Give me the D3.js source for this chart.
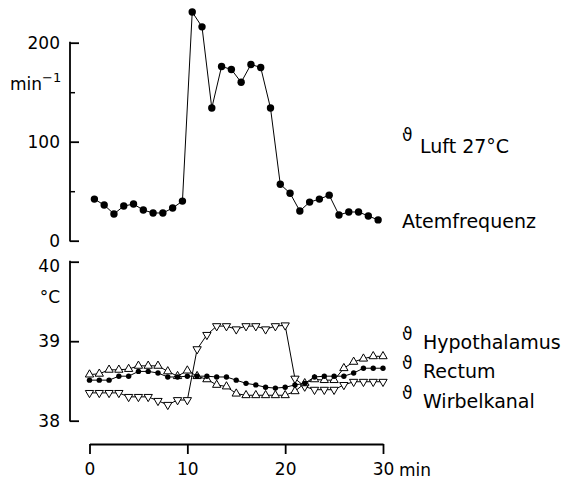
<!DOCTYPE html>
<html>
<head>
<meta charset="utf-8">
<script src="https://cdn.jsdelivr.net/npm/d3@7"></script>
<style>
  body { margin: 0; background: #fff; }
  svg { display: block; }
  text { font-family: "DejaVu Sans", sans-serif; fill: #000; }
</style>
</head>
<body>
<svg id="chart" width="563" height="481"></svg>
<script>
// ---- data ----
const respTimes = [0.5,1.5,2.5,3.5,4.5,5.5,6.5,7.5,8.5,9.5,10.5,11.5,12.5,13.5,14.5,15.5,16.5,17.5,18.5,19.5,20.5,21.5,22.5,23.5,24.5,25.5,26.5,27.5,28.5,29.5];
const atemfrequenz = [42,36,27,35,37,31,28,28,33,40,231,216,134,176,173,160,178,175,134,57,48,30,39,42,46,26,29,29,25,21];

const tempTimes = [0,1,2,3,4,5,6,7,8,9,10,11,12,13,14,15,16,17,18,19,20,21,22,23,24,25,26,27,28,29,30];
const hypothalamus = [38.58,38.59,38.64,38.64,38.65,38.69,38.69,38.69,38.62,38.56,38.63,38.56,38.52,38.45,38.43,38.34,38.32,38.32,38.32,38.32,38.32,38.37,38.47,38.52,38.51,38.51,38.66,38.74,38.78,38.81,38.81];
const rectum = [38.51,38.51,38.51,38.56,38.56,38.62,38.62,38.60,38.55,38.55,38.56,38.56,38.56,38.55,38.55,38.51,38.47,38.45,38.42,38.41,38.42,38.45,38.47,38.55,38.56,38.56,38.56,38.60,38.66,38.66,38.66];
const wirbelkanal = [38.35,38.35,38.35,38.35,38.30,38.30,38.30,38.25,38.20,38.26,38.26,38.90,39.08,39.19,39.19,39.15,39.19,39.19,39.15,39.19,39.20,38.53,38.43,38.39,38.39,38.39,38.45,38.49,38.49,38.49,38.49];

const xTicks = [0,10,20,30];
const topTicks = [0,100,200];
const topMinorTicks = [50,150];
const botTicks = [38,39,40];

// ---- scales ----
const svg = d3.select("#chart");
const x = d3.scaleLinear().domain([0,30]).range([89.5,383]);
const yTop = d3.scaleLinear().domain([0,200]).range([240.7,42.7]);
const yBot = d3.scaleLinear().domain([38,40]).range([420.7,261.7]);
const axisX = 70;
const FS = 17;

// ---- y axes ----
function yAxis(scale, ticks, minor) {
  const g = svg.append("g").attr("transform", `translate(${axisX},0)`);
  g.call(d3.axisLeft(scale).tickValues(ticks).tickFormat(d3.format("d"))
    .tickSizeInner(-9).tickSizeOuter(0).tickPadding(10));
  g.select(".domain").remove();
  g.selectAll(".tick line").attr("stroke","#000").attr("stroke-width",1.8);
  g.selectAll(".tick text").attr("font-size",FS).attr("font-family","DejaVu Sans, sans-serif");
  g.append("line").attr("x1",0).attr("x2",0)
    .attr("y1",scale(scale.domain()[1])-0.9).attr("y2",scale(scale.domain()[0])+0.9)
    .attr("stroke","#000").attr("stroke-width",1.8);
  if (minor) {
    const m = svg.append("g").attr("transform", `translate(${axisX},0)`);
    m.call(d3.axisLeft(scale).tickValues(minor).tickSizeInner(-5).tickSizeOuter(0).tickFormat(""));
    m.select(".domain").remove();
    m.selectAll(".tick line").attr("stroke","#000").attr("stroke-width",1.5);
  }
  return g;
}
yAxis(yTop, topTicks, topMinorTicks);
const gb = yAxis(yBot, botTicks, null);
gb.selectAll(".tick text").filter(d => d === 40).attr("dy","0.55em");

// axis unit labels
const minLab = svg.append("text").attr("x",10).attr("y",90).attr("font-size",FS);
minLab.append("tspan").text("min");
minLab.append("tspan").attr("dy",-8).attr("font-size",13).text("−1");
svg.append("text").attr("x",60).attr("y",303).attr("text-anchor","end").attr("font-size",FS).text("°C");

// ---- x axis ----
const gx = svg.append("g").attr("transform","translate(0,444)");
gx.call(d3.axisBottom(x).tickValues(xTicks).tickSizeInner(10).tickSizeOuter(0).tickPadding(9));
gx.select(".domain").attr("stroke","#000").attr("stroke-width",1.8);
gx.selectAll(".tick line").attr("stroke","#000").attr("stroke-width",1.8);
gx.selectAll(".tick text").attr("font-size",FS).attr("font-family","DejaVu Sans, sans-serif");
svg.append("text").attr("x",x(30)+16).attr("y",476).attr("font-size",FS).text("min");

// ---- top series ----
const lineTop = d3.line().x((d,i)=>x(respTimes[i])).y(d=>yTop(d));
svg.append("path").datum(atemfrequenz).attr("d",lineTop)
  .attr("fill","none").attr("stroke","#000").attr("stroke-width",1);
svg.append("g").selectAll("circle").data(atemfrequenz).join("circle")
  .attr("cx",(d,i)=>x(respTimes[i])).attr("cy",d=>yTop(d)).attr("r",3.7).attr("fill","#000");

// ---- bottom series ----
const lineBot = d3.line().x((d,i)=>x(tempTimes[i])).y(d=>yBot(d));
[hypothalamus, rectum, wirbelkanal].forEach(s => {
  svg.append("path").datum(s).attr("d",lineBot)
    .attr("fill","none").attr("stroke","#000").attr("stroke-width",1);
});
const tri = d3.symbol().type(d3.symbolTriangle).size(30);
svg.append("g").selectAll("path").data(wirbelkanal).join("path")
  .attr("d",tri)
  .attr("transform",(d,i)=>`translate(${x(tempTimes[i])},${yBot(d)}) rotate(180)`)
  .attr("fill","#fff").attr("stroke","#000").attr("stroke-width",1);
svg.append("g").selectAll("path").data(hypothalamus).join("path")
  .attr("d",tri)
  .attr("transform",(d,i)=>`translate(${x(tempTimes[i])},${yBot(d)})`)
  .attr("fill","#fff").attr("stroke","#000").attr("stroke-width",1);
svg.append("g").selectAll("circle").data(rectum).join("circle")
  .attr("cx",(d,i)=>x(tempTimes[i])).attr("cy",d=>yBot(d)).attr("r",2.7).attr("fill","#000");

// ---- labels ----
const LS = 19;
function thetaLabel(yTheta, xText, yText, txt) {
  svg.append("text").attr("x",402).attr("y",yTheta).attr("font-size",17).text("ϑ");
  svg.append("text").attr("x",xText).attr("y",yText).attr("font-size",LS).text(txt);
}
thetaLabel(141, 420, 153, "Luft 27°C");
svg.append("text").attr("x",402).attr("y",228).attr("font-size",LS).text("Atemfrequenz");
thetaLabel(340, 423, 349, "Hypothalamus");
thetaLabel(369, 423, 378, "Rectum");
thetaLabel(399, 423, 408, "Wirbelkanal");
</script>
</body>
</html>
